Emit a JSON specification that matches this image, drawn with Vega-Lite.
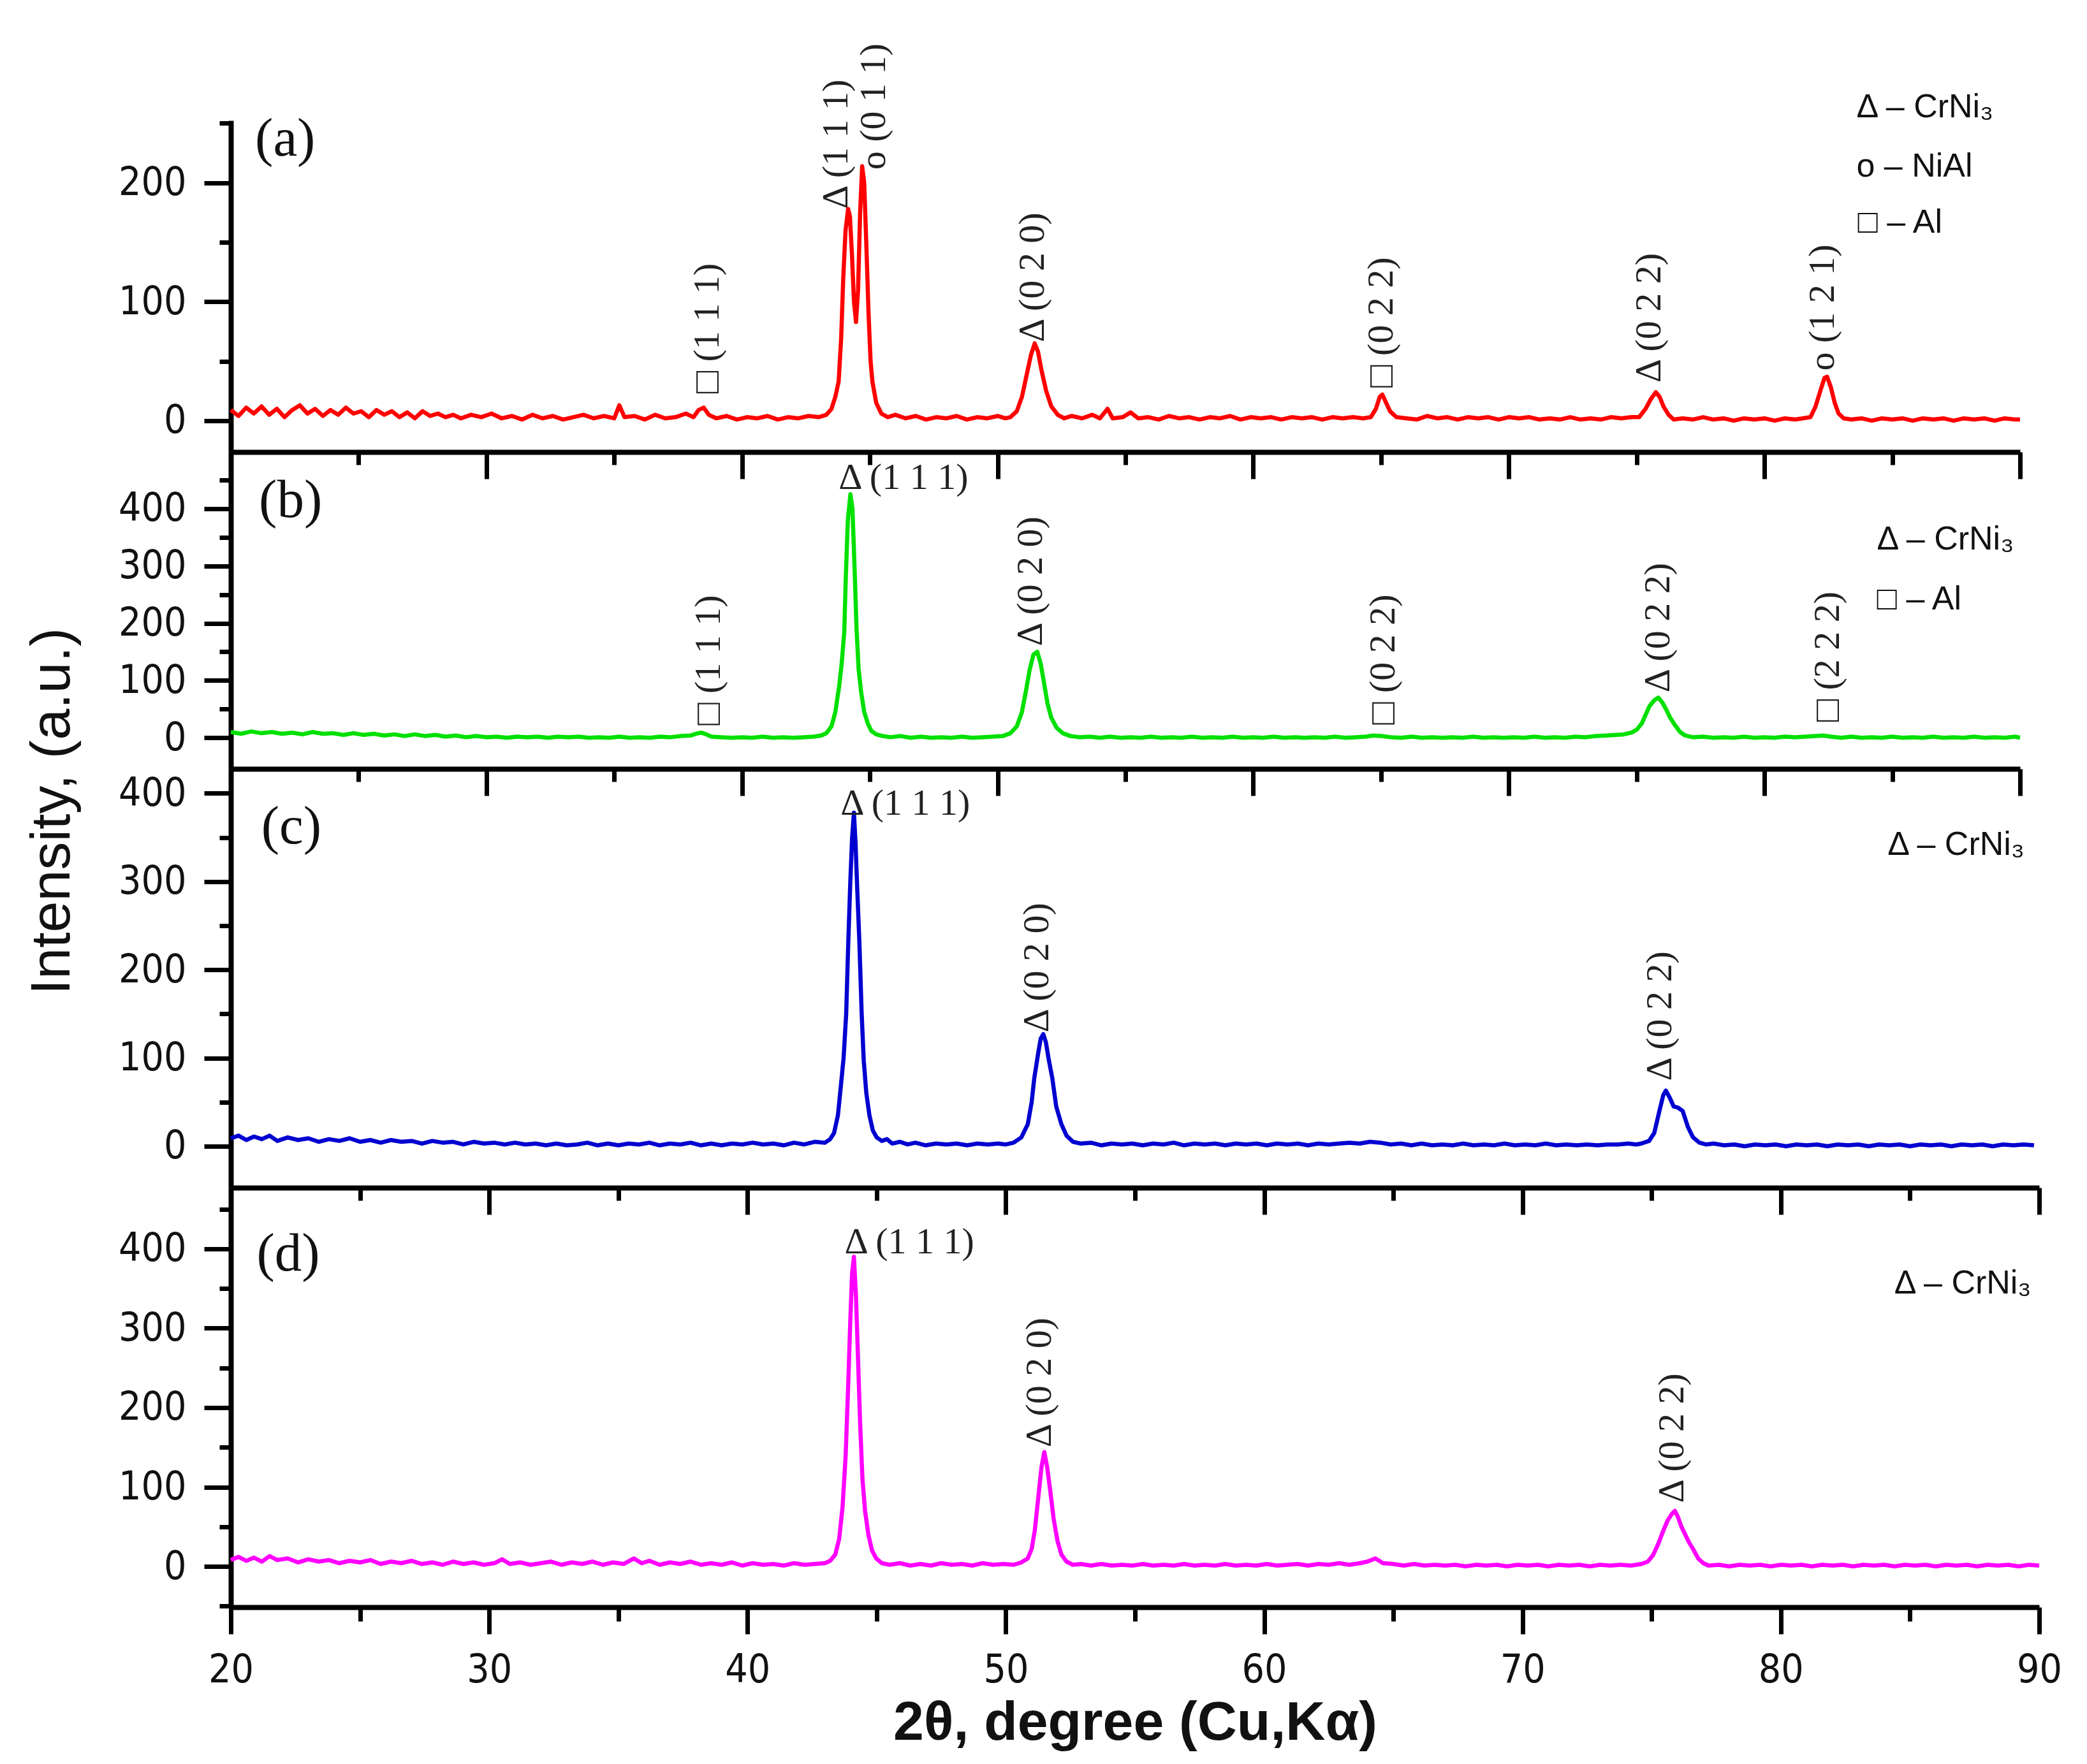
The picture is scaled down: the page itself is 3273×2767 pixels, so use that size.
{
"$schema": "https://vega.github.io/schema/vega-lite/v6.json",
"autosize": {"type": "none"},
"padding": {"left": 362, "top": 189, "right": 2911, "bottom": 2578},
"background": "white",
"bounds": "flush",
"spacing": 0,
"config": {
 "view": {"stroke": null},
 "axis": {"domainColor": "black", "domainWidth": 8, "tickColor": "black", "tickWidth": 7, "grid": false, "labelFont": "DejaVu Sans Condensed, DejaVu Sans", "labelFontSize": 62, "labelColor": "#111", "titleColor": "#111", "labelOverlap": false, "labelFlush": false, "labelBound": false}
},
"datasets": {
"sa": [{"x":20,"y":9},{"x":20.3,"y":4},{"x":20.6,"y":11},{"x":20.9,"y":6},{"x":21.2,"y":12},{"x":21.5,"y":5},{"x":21.8,"y":10},{"x":22.1,"y":3},{"x":22.4,"y":9},{"x":22.7,"y":13},{"x":23.0,"y":6},{"x":23.3,"y":10},{"x":23.6,"y":4},{"x":23.9,"y":9},{"x":24.2,"y":5},{"x":24.5,"y":11},{"x":24.8,"y":6},{"x":25.1,"y":8},{"x":25.4,"y":3},{"x":25.7,"y":9},{"x":26.0,"y":5},{"x":26.3,"y":8},{"x":26.6,"y":3},{"x":26.9,"y":7},{"x":27.2,"y":2},{"x":27.5,"y":8},{"x":27.8,"y":4},{"x":28.1,"y":6},{"x":28.4,"y":3},{"x":28.7,"y":5},{"x":29.0,"y":2},{"x":29.4,"y":5},{"x":29.8,"y":3},{"x":30.2,"y":6},{"x":30.6,"y":2},{"x":31.0,"y":4},{"x":31.4,"y":1},{"x":31.8,"y":5},{"x":32.2,"y":2},{"x":32.6,"y":4},{"x":33.0,"y":1},{"x":33.4,"y":3},{"x":33.8,"y":5},{"x":34.2,"y":2},{"x":34.6,"y":4},{"x":35.0,"y":2},{"x":35.2,"y":13},{"x":35.4,"y":3},{"x":35.8,"y":4},{"x":36.2,"y":1},{"x":36.6,"y":5},{"x":37.0,"y":2},{"x":37.4,"y":3},{"x":37.8,"y":6},{"x":38.1,"y":3},{"x":38.3,"y":9},{"x":38.5,"y":11},{"x":38.7,"y":5},{"x":39.0,"y":2},{"x":39.4,"y":4},{"x":39.8,"y":1},{"x":40.2,"y":3},{"x":40.6,"y":2},{"x":41.0,"y":4},{"x":41.4,"y":1},{"x":41.8,"y":3},{"x":42.2,"y":2},{"x":42.6,"y":4},{"x":43.0,"y":3},{"x":43.3,"y":5},{"x":43.5,"y":10},{"x":43.65,"y":20},{"x":43.78,"y":33},{"x":43.88,"y":70},{"x":43.96,"y":120},{"x":44.05,"y":160},{"x":44.15,"y":178},{"x":44.22,"y":172},{"x":44.3,"y":140},{"x":44.38,"y":100},{"x":44.46,"y":83},{"x":44.54,"y":110},{"x":44.62,"y":175},{"x":44.7,"y":214},{"x":44.78,"y":200},{"x":44.86,"y":150},{"x":44.95,"y":90},{"x":45.03,"y":50},{"x":45.1,"y":33},{"x":45.25,"y":15},{"x":45.45,"y":6},{"x":45.7,"y":3},{"x":46.0,"y":5},{"x":46.4,"y":2},{"x":46.8,"y":4},{"x":47.2,"y":1},{"x":47.6,"y":3},{"x":48.0,"y":2},{"x":48.4,"y":4},{"x":48.8,"y":1},{"x":49.2,"y":3},{"x":49.6,"y":2},{"x":50.0,"y":4},{"x":50.3,"y":2},{"x":50.5,"y":3},{"x":50.75,"y":8},{"x":50.95,"y":20},{"x":51.15,"y":40},{"x":51.3,"y":55},{"x":51.45,"y":65},{"x":51.58,"y":58},{"x":51.72,"y":42},{"x":51.9,"y":25},{"x":52.1,"y":12},{"x":52.35,"y":5},{"x":52.6,"y":2},{"x":52.9,"y":4},{"x":53.3,"y":2},{"x":53.7,"y":5},{"x":54.0,"y":2},{"x":54.3,"y":10},{"x":54.5,"y":2},{"x":54.9,"y":3},{"x":55.2,"y":7},{"x":55.5,"y":2},{"x":55.9,"y":3},{"x":56.3,"y":1},{"x":56.7,"y":4},{"x":57.1,"y":2},{"x":57.5,"y":3},{"x":57.9,"y":1},{"x":58.3,"y":3},{"x":58.7,"y":2},{"x":59.1,"y":4},{"x":59.5,"y":1},{"x":59.9,"y":3},{"x":60.3,"y":2},{"x":60.7,"y":3},{"x":61.1,"y":1},{"x":61.5,"y":3},{"x":61.9,"y":2},{"x":62.3,"y":3},{"x":62.7,"y":1},{"x":63.1,"y":3},{"x":63.5,"y":2},{"x":63.9,"y":3},{"x":64.3,"y":2},{"x":64.6,"y":3},{"x":64.8,"y":10},{"x":64.95,"y":20},{"x":65.05,"y":22},{"x":65.2,"y":15},{"x":65.35,"y":8},{"x":65.6,"y":3},{"x":66.0,"y":2},{"x":66.4,"y":1},{"x":66.8,"y":4},{"x":67.2,"y":2},{"x":67.6,"y":3},{"x":68.0,"y":1},{"x":68.4,"y":3},{"x":68.8,"y":2},{"x":69.2,"y":3},{"x":69.6,"y":1},{"x":70.0,"y":3},{"x":70.4,"y":2},{"x":70.8,"y":3},{"x":71.2,"y":1},{"x":71.6,"y":2},{"x":72.0,"y":1},{"x":72.4,"y":3},{"x":72.8,"y":1},{"x":73.2,"y":2},{"x":73.6,"y":1},{"x":74.0,"y":3},{"x":74.4,"y":2},{"x":74.8,"y":3},{"x":75.1,"y":3},{"x":75.35,"y":10},{"x":75.55,"y":18},{"x":75.75,"y":24},{"x":75.9,"y":20},{"x":76.05,"y":12},{"x":76.25,"y":5},{"x":76.45,"y":1},{"x":76.8,"y":2},{"x":77.2,"y":1},{"x":77.6,"y":3},{"x":78.0,"y":1},{"x":78.4,"y":2},{"x":78.8,"y":0},{"x":79.2,"y":2},{"x":79.6,"y":1},{"x":80.0,"y":2},{"x":80.4,"y":0},{"x":80.8,"y":2},{"x":81.2,"y":1},{"x":81.5,"y":2},{"x":81.8,"y":3},{"x":82.0,"y":12},{"x":82.2,"y":26},{"x":82.35,"y":36},{"x":82.45,"y":37},{"x":82.6,"y":28},{"x":82.75,"y":15},{"x":82.9,"y":6},{"x":83.1,"y":2},{"x":83.4,"y":1},{"x":83.8,"y":2},{"x":84.2,"y":0},{"x":84.6,"y":2},{"x":85.0,"y":1},{"x":85.4,"y":2},{"x":85.8,"y":0},{"x":86.2,"y":2},{"x":86.6,"y":1},{"x":87.0,"y":2},{"x":87.4,"y":0},{"x":87.8,"y":2},{"x":88.2,"y":1},{"x":88.6,"y":2},{"x":89.0,"y":0},{"x":89.4,"y":2},{"x":89.8,"y":1},{"x":90.0,"y":1}],
"sb": [{"x":20,"y":10},{"x":20.4,"y":7},{"x":20.8,"y":11},{"x":21.2,"y":8},{"x":21.6,"y":10},{"x":22.0,"y":7},{"x":22.4,"y":9},{"x":22.8,"y":6},{"x":23.2,"y":10},{"x":23.6,"y":7},{"x":24.0,"y":8},{"x":24.4,"y":5},{"x":24.8,"y":8},{"x":25.2,"y":5},{"x":25.6,"y":7},{"x":26.0,"y":4},{"x":26.4,"y":6},{"x":26.8,"y":3},{"x":27.2,"y":6},{"x":27.6,"y":3},{"x":28.0,"y":5},{"x":28.4,"y":2},{"x":28.8,"y":4},{"x":29.2,"y":1},{"x":29.6,"y":3},{"x":30.0,"y":1},{"x":30.4,"y":2},{"x":30.8,"y":0},{"x":31.2,"y":2},{"x":31.6,"y":1},{"x":32.0,"y":2},{"x":32.4,"y":0},{"x":32.8,"y":2},{"x":33.2,"y":1},{"x":33.6,"y":2},{"x":34.0,"y":0},{"x":34.4,"y":1},{"x":34.8,"y":0},{"x":35.2,"y":2},{"x":35.6,"y":0},{"x":36.0,"y":1},{"x":36.4,"y":0},{"x":36.8,"y":2},{"x":37.2,"y":1},{"x":37.6,"y":3},{"x":38.0,"y":4},{"x":38.2,"y":7},{"x":38.4,"y":9},{"x":38.6,"y":6},{"x":38.8,"y":2},{"x":39.2,"y":1},{"x":39.6,"y":0},{"x":40.0,"y":1},{"x":40.4,"y":0},{"x":40.8,"y":2},{"x":41.2,"y":0},{"x":41.6,"y":1},{"x":42.0,"y":0},{"x":42.4,"y":1},{"x":42.8,"y":2},{"x":43.1,"y":4},{"x":43.3,"y":8},{"x":43.5,"y":20},{"x":43.65,"y":45},{"x":43.8,"y":90},{"x":43.9,"y":130},{"x":44.0,"y":185},{"x":44.06,"y":280},{"x":44.14,"y":380},{"x":44.24,"y":425},{"x":44.32,"y":400},{"x":44.4,"y":300},{"x":44.48,"y":190},{"x":44.56,"y":120},{"x":44.66,"y":80},{"x":44.78,"y":45},{"x":44.92,"y":25},{"x":45.06,"y":12},{"x":45.25,"y":6},{"x":45.5,"y":3},{"x":45.8,"y":1},{"x":46.2,"y":3},{"x":46.6,"y":0},{"x":47.0,"y":2},{"x":47.4,"y":0},{"x":47.8,"y":1},{"x":48.2,"y":0},{"x":48.6,"y":2},{"x":49.0,"y":0},{"x":49.4,"y":1},{"x":49.8,"y":2},{"x":50.2,"y":3},{"x":50.5,"y":8},{"x":50.75,"y":20},{"x":50.95,"y":45},{"x":51.1,"y":80},{"x":51.25,"y":118},{"x":51.4,"y":145},{"x":51.55,"y":150},{"x":51.68,"y":130},{"x":51.8,"y":100},{"x":51.95,"y":60},{"x":52.1,"y":35},{"x":52.3,"y":18},{"x":52.55,"y":8},{"x":52.85,"y":3},{"x":53.2,"y":1},{"x":53.6,"y":2},{"x":54.0,"y":0},{"x":54.4,"y":2},{"x":54.8,"y":0},{"x":55.2,"y":1},{"x":55.6,"y":0},{"x":56.0,"y":2},{"x":56.4,"y":0},{"x":56.8,"y":1},{"x":57.2,"y":0},{"x":57.6,"y":2},{"x":58.0,"y":0},{"x":58.4,"y":1},{"x":58.8,"y":0},{"x":59.2,"y":2},{"x":59.6,"y":0},{"x":60.0,"y":1},{"x":60.4,"y":0},{"x":60.8,"y":2},{"x":61.2,"y":0},{"x":61.6,"y":1},{"x":62.0,"y":0},{"x":62.4,"y":1},{"x":62.8,"y":0},{"x":63.2,"y":2},{"x":63.6,"y":0},{"x":64.0,"y":1},{"x":64.4,"y":2},{"x":64.7,"y":4},{"x":65.0,"y":3},{"x":65.4,"y":1},{"x":65.8,"y":0},{"x":66.2,"y":2},{"x":66.6,"y":0},{"x":67.0,"y":1},{"x":67.4,"y":0},{"x":67.8,"y":1},{"x":68.2,"y":0},{"x":68.6,"y":2},{"x":69.0,"y":0},{"x":69.4,"y":1},{"x":69.8,"y":0},{"x":70.2,"y":1},{"x":70.6,"y":0},{"x":71.0,"y":2},{"x":71.4,"y":0},{"x":71.8,"y":1},{"x":72.2,"y":0},{"x":72.6,"y":2},{"x":73.0,"y":1},{"x":73.4,"y":3},{"x":73.8,"y":4},{"x":74.2,"y":5},{"x":74.5,"y":6},{"x":74.8,"y":9},{"x":75.0,"y":14},{"x":75.2,"y":25},{"x":75.35,"y":40},{"x":75.5,"y":55},{"x":75.7,"y":66},{"x":75.85,"y":70},{"x":76.0,"y":62},{"x":76.15,"y":50},{"x":76.3,"y":36},{"x":76.5,"y":22},{"x":76.7,"y":10},{"x":76.9,"y":4},{"x":77.2,"y":1},{"x":77.6,"y":2},{"x":78.0,"y":0},{"x":78.4,"y":1},{"x":78.8,"y":0},{"x":79.2,"y":2},{"x":79.6,"y":0},{"x":80.0,"y":1},{"x":80.4,"y":0},{"x":80.8,"y":2},{"x":81.2,"y":1},{"x":81.6,"y":2},{"x":82.0,"y":3},{"x":82.3,"y":4},{"x":82.6,"y":2},{"x":83.0,"y":0},{"x":83.4,"y":2},{"x":83.8,"y":0},{"x":84.2,"y":1},{"x":84.6,"y":0},{"x":85.0,"y":2},{"x":85.4,"y":0},{"x":85.8,"y":1},{"x":86.2,"y":0},{"x":86.6,"y":2},{"x":87.0,"y":0},{"x":87.4,"y":1},{"x":87.8,"y":0},{"x":88.2,"y":2},{"x":88.6,"y":0},{"x":89.0,"y":1},{"x":89.4,"y":0},{"x":89.8,"y":2},{"x":90.0,"y":0}],
"sc": [{"x":20,"y":9},{"x":20.3,"y":12},{"x":20.6,"y":7},{"x":20.9,"y":11},{"x":21.2,"y":8},{"x":21.5,"y":12},{"x":21.8,"y":6},{"x":22.2,"y":10},{"x":22.6,"y":7},{"x":23.0,"y":9},{"x":23.4,"y":5},{"x":23.8,"y":8},{"x":24.2,"y":6},{"x":24.6,"y":9},{"x":25.0,"y":5},{"x":25.4,"y":7},{"x":25.8,"y":4},{"x":26.2,"y":7},{"x":26.6,"y":5},{"x":27.0,"y":6},{"x":27.4,"y":3},{"x":27.8,"y":6},{"x":28.2,"y":4},{"x":28.6,"y":5},{"x":29.0,"y":2},{"x":29.4,"y":5},{"x":29.8,"y":3},{"x":30.2,"y":4},{"x":30.6,"y":2},{"x":31.0,"y":4},{"x":31.4,"y":2},{"x":31.8,"y":3},{"x":32.2,"y":1},{"x":32.6,"y":3},{"x":33.0,"y":1},{"x":33.4,"y":2},{"x":33.8,"y":4},{"x":34.2,"y":1},{"x":34.6,"y":3},{"x":35.0,"y":1},{"x":35.4,"y":3},{"x":35.8,"y":2},{"x":36.2,"y":4},{"x":36.6,"y":1},{"x":37.0,"y":3},{"x":37.4,"y":2},{"x":37.8,"y":4},{"x":38.2,"y":1},{"x":38.6,"y":3},{"x":39.0,"y":1},{"x":39.4,"y":3},{"x":39.8,"y":2},{"x":40.2,"y":4},{"x":40.6,"y":2},{"x":41.0,"y":3},{"x":41.4,"y":1},{"x":41.8,"y":4},{"x":42.2,"y":2},{"x":42.6,"y":5},{"x":43.0,"y":4},{"x":43.2,"y":8},{"x":43.35,"y":15},{"x":43.5,"y":35},{"x":43.62,"y":70},{"x":43.72,"y":100},{"x":43.82,"y":150},{"x":43.9,"y":230},{"x":43.98,"y":300},{"x":44.05,"y":350},{"x":44.12,"y":378},{"x":44.18,"y":345},{"x":44.25,"y":290},{"x":44.33,"y":232},{"x":44.42,"y":150},{"x":44.5,"y":97},{"x":44.6,"y":60},{"x":44.72,"y":35},{"x":44.85,"y":18},{"x":45.0,"y":10},{"x":45.2,"y":6},{"x":45.4,"y":8},{"x":45.6,"y":3},{"x":45.9,"y":5},{"x":46.2,"y":2},{"x":46.5,"y":4},{"x":46.9,"y":1},{"x":47.3,"y":3},{"x":47.7,"y":2},{"x":48.1,"y":3},{"x":48.5,"y":1},{"x":48.9,"y":3},{"x":49.3,"y":2},{"x":49.7,"y":3},{"x":50.0,"y":2},{"x":50.3,"y":4},{"x":50.6,"y":10},{"x":50.85,"y":25},{"x":51.0,"y":50},{"x":51.1,"y":77},{"x":51.25,"y":105},{"x":51.35,"y":122},{"x":51.45,"y":127},{"x":51.55,"y":118},{"x":51.65,"y":100},{"x":51.8,"y":77},{"x":51.95,"y":45},{"x":52.15,"y":25},{"x":52.35,"y":12},{"x":52.6,"y":5},{"x":52.9,"y":3},{"x":53.3,"y":4},{"x":53.7,"y":1},{"x":54.1,"y":3},{"x":54.5,"y":2},{"x":54.9,"y":3},{"x":55.3,"y":1},{"x":55.7,"y":3},{"x":56.1,"y":2},{"x":56.5,"y":4},{"x":56.9,"y":1},{"x":57.3,"y":3},{"x":57.7,"y":2},{"x":58.1,"y":3},{"x":58.5,"y":1},{"x":58.9,"y":3},{"x":59.3,"y":2},{"x":59.7,"y":3},{"x":60.1,"y":1},{"x":60.5,"y":3},{"x":60.9,"y":2},{"x":61.3,"y":3},{"x":61.7,"y":1},{"x":62.1,"y":3},{"x":62.5,"y":2},{"x":62.9,"y":3},{"x":63.3,"y":4},{"x":63.7,"y":3},{"x":64.1,"y":5},{"x":64.5,"y":4},{"x":64.9,"y":2},{"x":65.3,"y":3},{"x":65.7,"y":1},{"x":66.1,"y":3},{"x":66.5,"y":1},{"x":66.9,"y":2},{"x":67.3,"y":1},{"x":67.7,"y":3},{"x":68.1,"y":1},{"x":68.5,"y":2},{"x":68.9,"y":1},{"x":69.3,"y":3},{"x":69.7,"y":1},{"x":70.1,"y":2},{"x":70.5,"y":1},{"x":70.9,"y":3},{"x":71.3,"y":1},{"x":71.7,"y":2},{"x":72.1,"y":1},{"x":72.5,"y":2},{"x":72.9,"y":1},{"x":73.3,"y":2},{"x":73.7,"y":2},{"x":74.1,"y":3},{"x":74.4,"y":2},{"x":74.6,"y":3},{"x":74.9,"y":6},{"x":75.1,"y":15},{"x":75.3,"y":40},{"x":75.45,"y":58},{"x":75.55,"y":63},{"x":75.7,"y":55},{"x":75.85,"y":45},{"x":76.0,"y":44},{"x":76.2,"y":40},{"x":76.4,"y":22},{"x":76.6,"y":10},{"x":76.85,"y":4},{"x":77.1,"y":2},{"x":77.4,"y":3},{"x":77.8,"y":1},{"x":78.2,"y":2},{"x":78.6,"y":0},{"x":79.0,"y":2},{"x":79.4,"y":1},{"x":79.8,"y":2},{"x":80.2,"y":0},{"x":80.6,"y":2},{"x":81.0,"y":1},{"x":81.4,"y":2},{"x":81.8,"y":0},{"x":82.2,"y":2},{"x":82.6,"y":1},{"x":83.0,"y":2},{"x":83.4,"y":0},{"x":83.8,"y":2},{"x":84.2,"y":1},{"x":84.6,"y":2},{"x":85.0,"y":0},{"x":85.4,"y":2},{"x":85.8,"y":1},{"x":86.2,"y":2},{"x":86.6,"y":0},{"x":87.0,"y":2},{"x":87.4,"y":1},{"x":87.8,"y":2},{"x":88.2,"y":0},{"x":88.6,"y":2},{"x":89.0,"y":1},{"x":89.4,"y":2},{"x":89.8,"y":1}],
"sd": [{"x":20,"y":8},{"x":20.3,"y":12},{"x":20.6,"y":7},{"x":20.9,"y":11},{"x":21.2,"y":6},{"x":21.5,"y":13},{"x":21.8,"y":8},{"x":22.2,"y":10},{"x":22.6,"y":5},{"x":23.0,"y":9},{"x":23.4,"y":6},{"x":23.8,"y":8},{"x":24.2,"y":4},{"x":24.6,"y":7},{"x":25.0,"y":5},{"x":25.4,"y":8},{"x":25.8,"y":3},{"x":26.2,"y":6},{"x":26.6,"y":4},{"x":27.0,"y":7},{"x":27.4,"y":3},{"x":27.8,"y":5},{"x":28.2,"y":2},{"x":28.6,"y":6},{"x":29.0,"y":3},{"x":29.4,"y":5},{"x":29.8,"y":2},{"x":30.2,"y":4},{"x":30.5,"y":9},{"x":30.8,"y":3},{"x":31.2,"y":5},{"x":31.6,"y":2},{"x":32.0,"y":4},{"x":32.4,"y":6},{"x":32.8,"y":2},{"x":33.2,"y":5},{"x":33.6,"y":3},{"x":34.0,"y":6},{"x":34.4,"y":2},{"x":34.8,"y":5},{"x":35.2,"y":3},{"x":35.6,"y":10},{"x":35.9,"y":4},{"x":36.2,"y":7},{"x":36.6,"y":2},{"x":37.0,"y":5},{"x":37.4,"y":3},{"x":37.8,"y":6},{"x":38.2,"y":2},{"x":38.6,"y":4},{"x":39.0,"y":2},{"x":39.4,"y":5},{"x":39.8,"y":1},{"x":40.2,"y":4},{"x":40.6,"y":2},{"x":41.0,"y":3},{"x":41.4,"y":1},{"x":41.8,"y":4},{"x":42.2,"y":2},{"x":42.6,"y":3},{"x":43.0,"y":4},{"x":43.2,"y":7},{"x":43.4,"y":15},{"x":43.55,"y":35},{"x":43.68,"y":75},{"x":43.8,"y":140},{"x":43.9,"y":230},{"x":43.98,"y":310},{"x":44.05,"y":370},{"x":44.12,"y":390},{"x":44.2,"y":340},{"x":44.28,"y":260},{"x":44.36,"y":180},{"x":44.45,"y":110},{"x":44.55,"y":70},{"x":44.68,"y":40},{"x":44.82,"y":20},{"x":44.98,"y":10},{"x":45.2,"y":4},{"x":45.5,"y":2},{"x":45.9,"y":4},{"x":46.3,"y":1},{"x":46.7,"y":3},{"x":47.1,"y":1},{"x":47.5,"y":4},{"x":47.9,"y":2},{"x":48.3,"y":3},{"x":48.7,"y":1},{"x":49.1,"y":4},{"x":49.5,"y":2},{"x":49.9,"y":3},{"x":50.3,"y":2},{"x":50.6,"y":5},{"x":50.85,"y":10},{"x":51.0,"y":22},{"x":51.12,"y":45},{"x":51.25,"y":85},{"x":51.38,"y":125},{"x":51.49,"y":144},{"x":51.6,"y":125},{"x":51.72,"y":95},{"x":51.85,"y":60},{"x":52.0,"y":32},{"x":52.15,"y":15},{"x":52.35,"y":6},{"x":52.6,"y":2},{"x":52.9,"y":3},{"x":53.3,"y":1},{"x":53.7,"y":3},{"x":54.1,"y":1},{"x":54.5,"y":2},{"x":54.9,"y":1},{"x":55.3,"y":3},{"x":55.7,"y":1},{"x":56.1,"y":2},{"x":56.5,"y":1},{"x":56.9,"y":3},{"x":57.3,"y":1},{"x":57.7,"y":2},{"x":58.1,"y":1},{"x":58.5,"y":3},{"x":58.9,"y":1},{"x":59.3,"y":2},{"x":59.7,"y":1},{"x":60.1,"y":3},{"x":60.5,"y":1},{"x":60.9,"y":2},{"x":61.3,"y":3},{"x":61.7,"y":1},{"x":62.1,"y":3},{"x":62.5,"y":2},{"x":62.9,"y":4},{"x":63.3,"y":2},{"x":63.7,"y":4},{"x":64.0,"y":6},{"x":64.3,"y":10},{"x":64.6,"y":4},{"x":65.0,"y":3},{"x":65.4,"y":1},{"x":65.8,"y":3},{"x":66.2,"y":1},{"x":66.6,"y":2},{"x":67.0,"y":1},{"x":67.4,"y":2},{"x":67.8,"y":0},{"x":68.2,"y":2},{"x":68.6,"y":1},{"x":69.0,"y":2},{"x":69.4,"y":0},{"x":69.8,"y":2},{"x":70.2,"y":1},{"x":70.6,"y":2},{"x":71.0,"y":0},{"x":71.4,"y":2},{"x":71.8,"y":1},{"x":72.2,"y":2},{"x":72.6,"y":0},{"x":73.0,"y":2},{"x":73.4,"y":1},{"x":73.8,"y":2},{"x":74.2,"y":1},{"x":74.6,"y":3},{"x":74.85,"y":6},{"x":75.05,"y":14},{"x":75.25,"y":28},{"x":75.45,"y":45},{"x":75.62,"y":58},{"x":75.78,"y":66},{"x":75.9,"y":70},{"x":76.02,"y":62},{"x":76.15,"y":50},{"x":76.3,"y":40},{"x":76.45,"y":30},{"x":76.6,"y":22},{"x":76.8,"y":10},{"x":77.0,"y":4},{"x":77.2,"y":1},{"x":77.6,"y":2},{"x":78.0,"y":0},{"x":78.4,"y":2},{"x":78.8,"y":1},{"x":79.2,"y":2},{"x":79.6,"y":0},{"x":80.0,"y":2},{"x":80.4,"y":1},{"x":80.8,"y":2},{"x":81.2,"y":0},{"x":81.6,"y":2},{"x":82.0,"y":1},{"x":82.4,"y":2},{"x":82.8,"y":0},{"x":83.2,"y":2},{"x":83.6,"y":1},{"x":84.0,"y":2},{"x":84.4,"y":0},{"x":84.8,"y":2},{"x":85.2,"y":1},{"x":85.6,"y":2},{"x":86.0,"y":0},{"x":86.4,"y":2},{"x":86.8,"y":1},{"x":87.2,"y":2},{"x":87.6,"y":0},{"x":88.0,"y":2},{"x":88.4,"y":1},{"x":88.8,"y":2},{"x":89.2,"y":0},{"x":89.6,"y":2},{"x":90.0,"y":1}],
"rot": [{"p":"a","x":38.65,"y":23,"t":"□ (1 1 1)"},{"p":"a","x":43.7,"y":178,"t":"Δ (1 1 1)"},{"p":"a","x":45.18,"y":211,"t":"o (0 1 1)"},{"p":"a","x":51.38,"y":66,"t":"Δ (0 2 0)"},{"p":"a","x":65.03,"y":28,"t":"□ (0 2 2)"},{"p":"a","x":75.5,"y":32,"t":"Δ (0 2 2)"},{"p":"a","x":82.3,"y":42,"t":"o (1 2 1)"},{"p":"b","x":38.7,"y":22,"t":"□ (1 1 1)"},{"p":"b","x":51.3,"y":160,"t":"Δ (0 2 0)"},{"p":"b","x":65.1,"y":23,"t":"□ (0 2 2)"},{"p":"b","x":75.85,"y":79,"t":"Δ (0 2 2)"},{"p":"b","x":82.5,"y":28,"t":"□ (2 2 2)"},{"p":"c","x":51.22,"y":129,"t":"Δ (0 2 0)"},{"p":"c","x":75.35,"y":74,"t":"Δ (0 2 2)"},{"p":"d","x":51.33,"y":150,"t":"Δ (0 2 0)"},{"p":"d","x":75.8,"y":80,"t":"Δ (0 2 2)"}],
"hor": [{"p":"b","x":43.78,"y":434,"t":"Δ (1 1 1)"},{"p":"c","x":43.6,"y":376,"t":"Δ (1 1 1)"},{"p":"d","x":43.76,"y":394,"t":"Δ (1 1 1)"}],
"leg": [{"p":"a","x":83.6,"y":255,"t":"Δ – CrNi₃"},{"p":"a","x":83.6,"y":205,"t":"o – NiAl"},{"p":"a","x":83.65,"y":158,"t":"□ – Al"},{"p":"b","x":84.4,"y":328,"t":"Δ – CrNi₃"},{"p":"b","x":84.4,"y":224,"t":"□ – Al"},{"p":"c","x":84.13,"y":330,"t":"Δ – CrNi₃"},{"p":"d","x":84.39,"y":344,"t":"Δ – CrNi₃"}],
"lab": [{"p":"a","x":20.95,"y":223,"t":"(a)"},{"p":"b","x":21.1,"y":385,"t":"(b)"},{"p":"c","x":21.18,"y":343,"t":"(c)"},{"p":"d","x":21.0,"y":373,"t":"(d)"}]
},
"vconcat": [
{
 "width": 2806, "height": 520,
 "resolve": {"axis": {"x": "independent", "y": "independent"}},
 "layer": [
  {"data": {"name": "sa"}, "mark": {"type": "line", "color": "#ff0000", "strokeWidth": 6.5, "strokeJoin": "round"},
   "encoding": {
    "x": {"field": "x", "type": "quantitative", "scale": {"domain": [20, 90], "nice": false, "zero": false}, "axis": {"orient": "bottom", "values": [20,30,40,50,60,70,80,90], "tickSize": 42, "labels": false, "title": null}},
    "y": {"field": "y", "type": "quantitative", "scale": {"domain": [-26.3, 252.4], "nice": false, "zero": false}, "axis": {"orient": "left", "values": [0,100,200], "tickSize": 42, "labelPadding": 28, "title": null}}}},
  {"data": {"name": "rot"}, "transform": [{"filter": "datum.p === 'a'"}],
   "mark": {"type": "text", "angle": 270, "align": "left", "baseline": "middle", "font": "Liberation Serif", "fontSize": 58, "color": "#222"},
   "encoding": {
    "x": {"field": "x", "type": "quantitative", "scale": {"domain": [20, 90], "nice": false, "zero": false}, "axis": {"orient": "bottom", "values": [25,35,45,55,65,75,85], "tickSize": 20, "labels": false, "domain": false, "title": null}},
    "y": {"field": "y", "type": "quantitative", "scale": {"domain": [-26.3, 252.4], "nice": false, "zero": false}, "axis": {"orient": "left", "values": [50,150,250], "tickSize": 18, "labels": false, "domain": false, "title": null}},
    "text": {"field": "t", "type": "nominal"}}},
  {"data": {"name": "leg"}, "transform": [{"filter": "datum.p === 'a'"}],
   "mark": {"type": "text", "align": "left", "baseline": "alphabetic", "font": "Liberation Sans", "fontSize": 52, "color": "#111"},
   "encoding": {
    "x": {"field": "x", "type": "quantitative", "scale": {"domain": [20, 90], "nice": false, "zero": false}, "axis": null},
    "y": {"field": "y", "type": "quantitative", "scale": {"domain": [-26.3, 252.4], "nice": false, "zero": false}, "axis": null},
    "text": {"field": "t", "type": "nominal"}}},
  {"data": {"name": "lab"}, "transform": [{"filter": "datum.p === 'a'"}],
   "mark": {"type": "text", "align": "left", "baseline": "alphabetic", "font": "Liberation Serif", "fontSize": 85, "color": "#111"},
   "encoding": {
    "x": {"field": "x", "type": "quantitative", "scale": {"domain": [20, 90], "nice": false, "zero": false}, "axis": null},
    "y": {"field": "y", "type": "quantitative", "scale": {"domain": [-26.3, 252.4], "nice": false, "zero": false}, "axis": null},
    "text": {"field": "t", "type": "nominal"}}}
 ]
},
{
 "width": 2806, "height": 497,
 "resolve": {"axis": {"x": "independent", "y": "independent"}},
 "layer": [
  {"data": {"name": "sb"}, "mark": {"type": "line", "color": "#00e000", "strokeWidth": 6.5, "strokeJoin": "round"},
   "encoding": {
    "x": {"field": "x", "type": "quantitative", "scale": {"domain": [20, 90], "nice": false, "zero": false}, "axis": {"orient": "bottom", "values": [20,30,40,50,60,70,80,90], "tickSize": 42, "labels": false, "title": null}},
    "y": {"field": "y", "type": "quantitative", "scale": {"domain": [-54.2, 498.7], "nice": false, "zero": false}, "axis": {"orient": "left", "values": [0,100,200,300,400], "tickSize": 42, "labelPadding": 28, "title": null}}}},
  {"data": {"name": "rot"}, "transform": [{"filter": "datum.p === 'b'"}],
   "mark": {"type": "text", "angle": 270, "align": "left", "baseline": "middle", "font": "Liberation Serif", "fontSize": 58, "color": "#222"},
   "encoding": {
    "x": {"field": "x", "type": "quantitative", "scale": {"domain": [20, 90], "nice": false, "zero": false}, "axis": {"orient": "bottom", "values": [25,35,45,55,65,75,85], "tickSize": 20, "labels": false, "domain": false, "title": null}},
    "y": {"field": "y", "type": "quantitative", "scale": {"domain": [-54.2, 498.7], "nice": false, "zero": false}, "axis": {"orient": "left", "values": [50,150,250,350,450], "tickSize": 18, "labels": false, "domain": false, "title": null}},
    "text": {"field": "t", "type": "nominal"}}},
  {"data": {"name": "hor"}, "transform": [{"filter": "datum.p === 'b'"}],
   "mark": {"type": "text", "align": "left", "baseline": "alphabetic", "font": "Liberation Serif", "fontSize": 58, "color": "#222"},
   "encoding": {
    "x": {"field": "x", "type": "quantitative", "scale": {"domain": [20, 90], "nice": false, "zero": false}, "axis": null},
    "y": {"field": "y", "type": "quantitative", "scale": {"domain": [-54.2, 498.7], "nice": false, "zero": false}, "axis": null},
    "text": {"field": "t", "type": "nominal"}}},
  {"data": {"name": "leg"}, "transform": [{"filter": "datum.p === 'b'"}],
   "mark": {"type": "text", "align": "left", "baseline": "alphabetic", "font": "Liberation Sans", "fontSize": 52, "color": "#111"},
   "encoding": {
    "x": {"field": "x", "type": "quantitative", "scale": {"domain": [20, 90], "nice": false, "zero": false}, "axis": null},
    "y": {"field": "y", "type": "quantitative", "scale": {"domain": [-54.2, 498.7], "nice": false, "zero": false}, "axis": null},
    "text": {"field": "t", "type": "nominal"}}},
  {"data": {"name": "lab"}, "transform": [{"filter": "datum.p === 'b'"}],
   "mark": {"type": "text", "align": "left", "baseline": "alphabetic", "font": "Liberation Serif", "fontSize": 85, "color": "#111"},
   "encoding": {
    "x": {"field": "x", "type": "quantitative", "scale": {"domain": [20, 90], "nice": false, "zero": false}, "axis": null},
    "y": {"field": "y", "type": "quantitative", "scale": {"domain": [-54.2, 498.7], "nice": false, "zero": false}, "axis": null},
    "text": {"field": "t", "type": "nominal"}}}
 ]
},
{
 "width": 2836, "height": 657,
 "resolve": {"axis": {"x": "independent", "y": "independent"}},
 "layer": [
  {"data": {"name": "sc"}, "mark": {"type": "line", "color": "#0000d0", "strokeWidth": 6.5, "strokeJoin": "round"},
   "encoding": {
    "x": {"field": "x", "type": "quantitative", "scale": {"domain": [20, 90], "nice": false, "zero": false}, "axis": {"orient": "bottom", "values": [20,30,40,50,60,70,80,90], "tickSize": 42, "labels": false, "title": null}},
    "y": {"field": "y", "type": "quantitative", "scale": {"domain": [-47, 427.7], "nice": false, "zero": false}, "axis": {"orient": "left", "values": [0,100,200,300,400], "tickSize": 42, "labelPadding": 28, "title": "Intensity, (a.u.)", "titleFont": "Liberation Sans", "titleFontSize": 88, "titleFontWeight": "normal", "titleX": -280, "titleY": 66, "titleAngle": 270, "titleAlign": "center", "titleBaseline": "middle"}}}},
  {"data": {"name": "rot"}, "transform": [{"filter": "datum.p === 'c'"}],
   "mark": {"type": "text", "angle": 270, "align": "left", "baseline": "middle", "font": "Liberation Serif", "fontSize": 58, "color": "#222"},
   "encoding": {
    "x": {"field": "x", "type": "quantitative", "scale": {"domain": [20, 90], "nice": false, "zero": false}, "axis": {"orient": "bottom", "values": [25,35,45,55,65,75,85], "tickSize": 20, "labels": false, "domain": false, "title": null}},
    "y": {"field": "y", "type": "quantitative", "scale": {"domain": [-47, 427.7], "nice": false, "zero": false}, "axis": {"orient": "left", "values": [50,150,250,350], "tickSize": 18, "labels": false, "domain": false, "title": null}},
    "text": {"field": "t", "type": "nominal"}}},
  {"data": {"name": "hor"}, "transform": [{"filter": "datum.p === 'c'"}],
   "mark": {"type": "text", "align": "left", "baseline": "alphabetic", "font": "Liberation Serif", "fontSize": 58, "color": "#222"},
   "encoding": {
    "x": {"field": "x", "type": "quantitative", "scale": {"domain": [20, 90], "nice": false, "zero": false}, "axis": null},
    "y": {"field": "y", "type": "quantitative", "scale": {"domain": [-47, 427.7], "nice": false, "zero": false}, "axis": null},
    "text": {"field": "t", "type": "nominal"}}},
  {"data": {"name": "leg"}, "transform": [{"filter": "datum.p === 'c'"}],
   "mark": {"type": "text", "align": "left", "baseline": "alphabetic", "font": "Liberation Sans", "fontSize": 52, "color": "#111"},
   "encoding": {
    "x": {"field": "x", "type": "quantitative", "scale": {"domain": [20, 90], "nice": false, "zero": false}, "axis": null},
    "y": {"field": "y", "type": "quantitative", "scale": {"domain": [-47, 427.7], "nice": false, "zero": false}, "axis": null},
    "text": {"field": "t", "type": "nominal"}}},
  {"data": {"name": "lab"}, "transform": [{"filter": "datum.p === 'c'"}],
   "mark": {"type": "text", "align": "left", "baseline": "alphabetic", "font": "Liberation Serif", "fontSize": 85, "color": "#111"},
   "encoding": {
    "x": {"field": "x", "type": "quantitative", "scale": {"domain": [20, 90], "nice": false, "zero": false}, "axis": null},
    "y": {"field": "y", "type": "quantitative", "scale": {"domain": [-47, 427.7], "nice": false, "zero": false}, "axis": null},
    "text": {"field": "t", "type": "nominal"}}}
 ]
},
{
 "width": 2836, "height": 658,
 "resolve": {"axis": {"x": "independent", "y": "independent"}},
 "layer": [
  {"data": {"name": "sd"}, "mark": {"type": "line", "color": "#ff00ff", "strokeWidth": 6.5, "strokeJoin": "round"},
   "encoding": {
    "x": {"field": "x", "type": "quantitative", "scale": {"domain": [20, 90], "nice": false, "zero": false}, "axis": {"orient": "bottom", "values": [20,30,40,50,60,70,80,90], "tickSize": 42, "labelPadding": 26, "title": "2θ, degree (Cu,Kα)", "titleFont": "Liberation Sans", "titleFontSize": 86, "titleFontWeight": "bold", "titleY": 207, "titleBaseline": "alphabetic"}},
    "y": {"field": "y", "type": "quantitative", "scale": {"domain": [-51.4, 477.1], "nice": false, "zero": false}, "axis": {"orient": "left", "values": [0,100,200,300,400], "tickSize": 42, "labelPadding": 28, "title": null}}}},
  {"data": {"name": "rot"}, "transform": [{"filter": "datum.p === 'd'"}],
   "mark": {"type": "text", "angle": 270, "align": "left", "baseline": "middle", "font": "Liberation Serif", "fontSize": 58, "color": "#222"},
   "encoding": {
    "x": {"field": "x", "type": "quantitative", "scale": {"domain": [20, 90], "nice": false, "zero": false}, "axis": {"orient": "bottom", "values": [25,35,45,55,65,75,85], "tickSize": 22, "labels": false, "domain": false, "title": null}},
    "y": {"field": "y", "type": "quantitative", "scale": {"domain": [-51.4, 477.1], "nice": false, "zero": false}, "axis": {"orient": "left", "values": [-50,50,150,250,350,450], "tickSize": 18, "labels": false, "domain": false, "title": null}},
    "text": {"field": "t", "type": "nominal"}}},
  {"data": {"name": "hor"}, "transform": [{"filter": "datum.p === 'd'"}],
   "mark": {"type": "text", "align": "left", "baseline": "alphabetic", "font": "Liberation Serif", "fontSize": 58, "color": "#222"},
   "encoding": {
    "x": {"field": "x", "type": "quantitative", "scale": {"domain": [20, 90], "nice": false, "zero": false}, "axis": null},
    "y": {"field": "y", "type": "quantitative", "scale": {"domain": [-51.4, 477.1], "nice": false, "zero": false}, "axis": null},
    "text": {"field": "t", "type": "nominal"}}},
  {"data": {"name": "leg"}, "transform": [{"filter": "datum.p === 'd'"}],
   "mark": {"type": "text", "align": "left", "baseline": "alphabetic", "font": "Liberation Sans", "fontSize": 52, "color": "#111"},
   "encoding": {
    "x": {"field": "x", "type": "quantitative", "scale": {"domain": [20, 90], "nice": false, "zero": false}, "axis": null},
    "y": {"field": "y", "type": "quantitative", "scale": {"domain": [-51.4, 477.1], "nice": false, "zero": false}, "axis": null},
    "text": {"field": "t", "type": "nominal"}}},
  {"data": {"name": "lab"}, "transform": [{"filter": "datum.p === 'd'"}],
   "mark": {"type": "text", "align": "left", "baseline": "alphabetic", "font": "Liberation Serif", "fontSize": 85, "color": "#111"},
   "encoding": {
    "x": {"field": "x", "type": "quantitative", "scale": {"domain": [20, 90], "nice": false, "zero": false}, "axis": null},
    "y": {"field": "y", "type": "quantitative", "scale": {"domain": [-51.4, 477.1], "nice": false, "zero": false}, "axis": null},
    "text": {"field": "t", "type": "nominal"}}}
 ]
}
]
}
